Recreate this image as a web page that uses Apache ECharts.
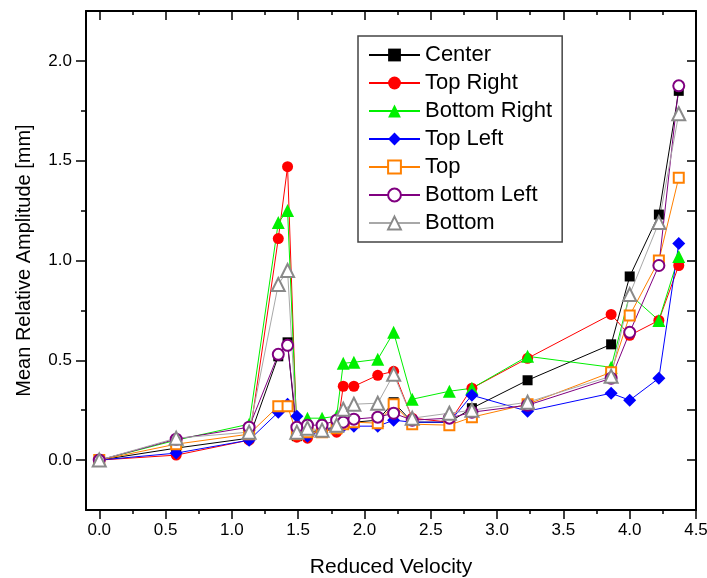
<!DOCTYPE html>
<html>
<head>
<meta charset="utf-8">
<script src="https://cdn.jsdelivr.net/npm/echarts@6/dist/echarts.min.js"></script>
<style>
  html, body { margin: 0; padding: 0; background: #fff; }
  #chart { width: 707px; height: 578px; }
</style>
</head>
<body>
<div id="chart"></div>
<script>
// reduced velocity values (shared by all measuring points)
const velocity = [0, 0.58, 1.13, 1.35, 1.42, 1.49, 1.57, 1.68, 1.79, 1.84, 1.92, 2.10, 2.22, 2.36, 2.64, 2.81, 3.23, 3.86, 4.0, 4.22, 4.37];

const center      = [0, 0.06, 0.11, 0.52, 0.59, 0.12, 0.14, 0.15, 0.17, 0.18, 0.19, 0.20, 0.29, 0.19, 0.19, 0.26, 0.40, 0.58, 0.92, 1.23, 1.85];
const topRight    = [0, 0.025, 0.10, 1.11, 1.47, 0.115, 0.11, 0.16, 0.14, 0.37, 0.37, 0.425, 0.445, 0.21, 0.19, 0.36, 0.51, 0.73, 0.625, 0.70, 0.975];
const bottomRight = [0, 0.10, 0.18, 1.19, 1.25, 0.15, 0.21, 0.21, 0.22, 0.485, 0.49, 0.505, 0.64, 0.305, 0.345, 0.36, 0.52, 0.465, 0.83, 0.70, 1.02];
const topLeft     = [0, 0.035, 0.10, 0.24, 0.28, 0.22, 0.12, 0.15, 0.16, 0.17, 0.17, 0.17, 0.20, 0.19, 0.19, 0.325, 0.245, 0.335, 0.30, 0.41, 1.085];
const topMid      = [0, 0.08, 0.13, 0.27, 0.27, 0.13, 0.14, 0.14, 0.16, 0.18, 0.19, 0.185, 0.28, 0.18, 0.175, 0.215, 0.28, 0.44, 0.725, 1.0, 1.415];
const bottomLeft  = [0, 0.105, 0.165, 0.53, 0.575, 0.165, 0.175, 0.175, 0.20, 0.19, 0.205, 0.215, 0.235, 0.20, 0.21, 0.24, 0.275, 0.41, 0.64, 0.975, 1.875];
const bottomMid   = [0, 0.11, 0.14, 0.88, 0.95, 0.14, 0.16, 0.15, 0.175, 0.255, 0.28, 0.285, 0.43, 0.21, 0.235, 0.25, 0.29, 0.42, 0.83, 1.19, 1.735];

const xMajor = [0, 0.5, 1, 1.5, 2, 2.5, 3, 3.5, 4, 4.5];
const xMinor = [0.25, 0.75, 1.25, 1.75, 2.25, 2.75, 3.25, 3.75, 4.25];
const yMajor = [0, 0.5, 1, 1.5, 2];
const yMinor = [0.25, 0.75, 1.25, 1.75];
const yRight = [0, 0.25, 0.5, 0.75, 1, 1.25, 1.5, 1.75, 2];

const FONT = '"Liberation Sans", Arial, sans-serif';

const pairs = (ys) => velocity.map((v, i) => [v, ys[i]]);

const lineSeries = (name, ys, color, symbol, size, lineColor) => ({
  name: name,
  type: 'line',
  data: pairs(ys),
  symbol: symbol,
  symbolSize: size,
  showSymbol: true,
  xAxisIndex: 0,
  yAxisIndex: 0,
  animation: false,
  itemStyle: { color: color, borderWidth: 1 },
  lineStyle: { color: lineColor || color, width: 1 },
  emphasis: { disabled: true },
});

// extra axes only used to draw minor ticks and the mirrored frame
const tickX = (pos, vals, len, inside, line) => ({
  type: 'value', position: pos, min: -0.1, max: 4.5,
  axisLine: { show: !!line, onZero: false, lineStyle: { color: '#000', width: 2 } },
  axisTick: { show: true, inside: inside, length: len, customValues: vals, lineStyle: { color: '#000', width: 1.5 } },
  axisLabel: { show: false },
  splitLine: { show: false },
});
const tickY = (pos, vals, len, inside, line) => ({
  type: 'value', position: pos, min: -0.25, max: 2.25,
  axisLine: { show: !!line, onZero: false, lineStyle: { color: '#000', width: 2 } },
  axisTick: { show: true, inside: inside, length: len, customValues: vals, lineStyle: { color: '#000', width: 1.5 } },
  axisLabel: { show: false },
  splitLine: { show: false },
});

const chart = echarts.init(document.getElementById('chart'), null, { renderer: 'canvas' });

const option = {
  animation: false,
  backgroundColor: '#fff',
  grid: { left: 86, right: 11, top: 11, bottom: 68, containLabel: false, outerBoundsMode: 'none' },
  legend: {
    orient: 'vertical',
    left: 358,
    top: 36,
    padding: [8, 10, 8, 10],
    itemWidth: 51,
    itemHeight: 16,
    itemGap: 6,
    borderColor: '#444',
    borderWidth: 1.5,
    textStyle: { fontFamily: FONT, fontSize: 22, color: '#000' },
    selectedMode: false,
  },
  xAxis: [
    {
      type: 'value', position: 'bottom', min: -0.1, max: 4.5,
      name: 'Reduced Velocity', nameLocation: 'middle', nameGap: 47,
      nameTextStyle: { fontFamily: FONT, fontSize: 21, color: '#000' },
      axisLine: { show: true, onZero: false, lineStyle: { color: '#000', width: 2 } },
      axisTick: { show: true, length: 9, customValues: xMajor, lineStyle: { color: '#000', width: 1.5 } },
      axisLabel: { customValues: xMajor, margin: 12, fontFamily: FONT, fontSize: 17, color: '#000',
        formatter: (v) => v.toFixed(1) },
      splitLine: { show: false },
    },
    tickX('bottom', xMinor, 4, false, false),
    tickX('top', xMajor, 9, true, true),
    tickX('top', xMinor, 4, true, false),
  ],
  yAxis: [
    {
      type: 'value', position: 'left', min: -0.25, max: 2.25,
      name: 'Mean Relative Amplitude [mm]', nameLocation: 'middle', nameGap: 52,
      nameTextStyle: { fontFamily: FONT, fontSize: 20, color: '#000' },
      axisLine: { show: true, onZero: false, lineStyle: { color: '#000', width: 2 } },
      axisTick: { show: true, length: 10, customValues: yMajor, lineStyle: { color: '#000', width: 1.5 } },
      axisLabel: { customValues: yMajor, margin: 14, fontFamily: FONT, fontSize: 17, color: '#000',
        formatter: (v) => v.toFixed(1) },
      splitLine: { show: false },
    },
    tickY('left', yMinor, 5, false, false),
    tickY('right', yRight, 9, true, true),
  ],
  series: [
    lineSeries('Center', center, '#000000', 'rect', 10),
    lineSeries('Top Right', topRight, '#ff0000', 'circle', 11),
    lineSeries('Bottom Right', bottomRight, '#00f000', 'triangle', 13),
    lineSeries('Top Left', topLeft, '#0000ff', 'diamond', 13),
    lineSeries('Top', topMid, '#ff8000', 'emptyRect', 10),
    lineSeries('Bottom Left', bottomLeft, '#800080', 'emptyCircle', 11),
    lineSeries('Bottom', bottomMid, '#8a8a8a', 'emptyTriangle', 13, '#a8a8a8'),
  ],
};

chart.setOption(option);
</script>
</body>
</html>
